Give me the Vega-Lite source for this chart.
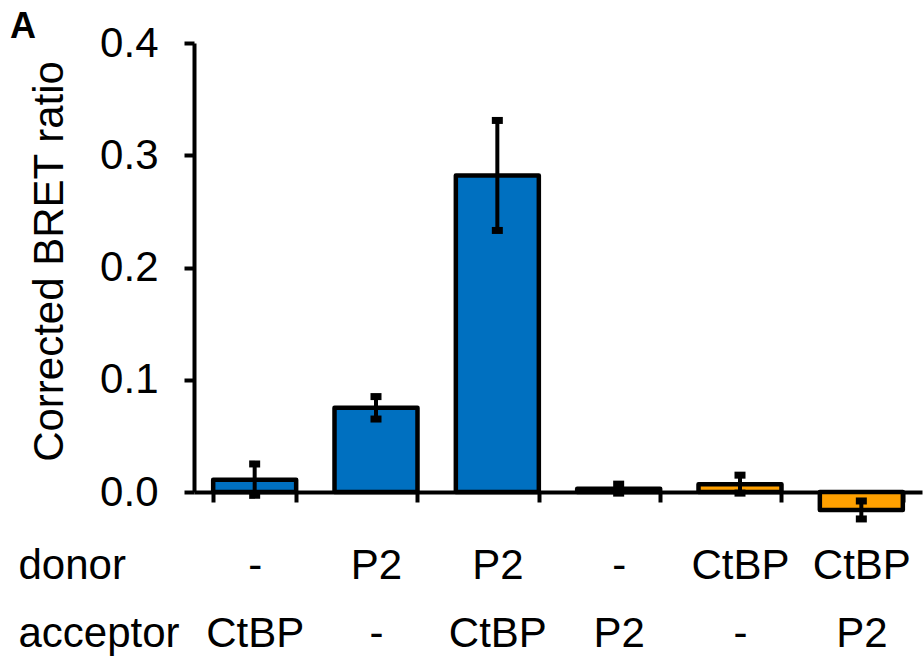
{
  "$schema": "https://vega.github.io/schema/vega-lite/v6.json",
  "width": 728,
  "height": 449,
  "autosize": "none",
  "padding": {"left": 194, "top": 43, "right": 2, "bottom": 169},
  "background": "white",
  "config": {
    "font": "Liberation Sans",
    "view": {"stroke": null},
    "title": {"fontSize": 36, "fontWeight": "bold", "color": "black", "font": "Liberation Sans"},
    "axis": {"grid": false, "domainColor": "black", "tickColor": "black", "labelColor": "black", "titleColor": "black", "labelFont": "Liberation Sans", "titleFont": "Liberation Sans"}
  },
  "title": {"text": "A", "anchor": "start", "frame": "group", "dx": -184, "dy": 24, "fontSize": 36, "fontWeight": "bold", "color": "black", "baseline": "top", "offset": 0},
  "data": {
    "values": [
      {"pair": "-|CtBP", "value": 0.011, "err": 0.014, "set": "blue"},
      {"pair": "P2|-", "value": 0.075, "err": 0.010, "set": "blue"},
      {"pair": "P2|CtBP", "value": 0.282, "err": 0.049, "set": "blue"},
      {"pair": "-|P2", "value": 0.003, "err": 0.004, "set": "blue"},
      {"pair": "CtBP|-", "value": 0.007, "err": 0.008, "set": "orange"},
      {"pair": "CtBP|P2", "value": -0.016, "err": 0.008, "set": "orange"}
    ]
  },
  "encoding": {
    "x": {
      "field": "pair", "type": "nominal", "sort": null,
      "scale": {"paddingInner": 0.316, "paddingOuter": 0.158},
      "axis": {
        "labelExpr": "split(datum.label, '|')",
        "labelAngle": 0, "labelFontSize": 42, "labelLineHeight": 68,
        "labelBaseline": "alphabetic", "labelPadding": 76,
        "tickBand": "extent", "tickSize": 10, "tickWidth": 4, "domainWidth": 4,
        "title": ["donor", "acceptor"], "titleFontSize": 42, "titleFontWeight": "normal",
        "titleAngle": 0, "titleAlign": "left", "titleBaseline": "alphabetic",
        "titleX": -176, "titleY": 86, "titleLineHeight": 68
      }
    },
    "y": {
      "field": "value", "type": "quantitative",
      "scale": {"domain": [0, 0.4], "nice": false, "zero": false},
      "axis": {
        "values": [0, 0.1, 0.2, 0.3, 0.4], "format": ".1f",
        "labelFontSize": 42, "labelPadding": 26, "tickSize": 10, "tickWidth": 4, "domainWidth": 4,
        "title": "Corrected BRET ratio", "titleFontSize": 42, "titleFontWeight": "normal",
        "titleBaseline": "alphabetic", "titleX": -132, "titleY": 218
      }
    }
  },
  "layer": [
    {
      "mark": {"type": "bar", "stroke": "black", "strokeWidth": 4.5, "strokeJoin": "round"},
      "encoding": {
        "color": {"field": "set", "type": "nominal", "scale": {"domain": ["blue", "orange"], "range": ["#0070C0", "#FFA000"]}, "legend": null}
      }
    },
    {
      "mark": {"type": "errorbar", "color": "black", "opacity": 1, "ticks": {"size": 11, "thickness": 7, "color": "black", "opacity": 1}, "rule": {"strokeWidth": 4, "opacity": 1}},
      "encoding": {
        "yError": {"field": "err"}
      }
    }
  ]
}
